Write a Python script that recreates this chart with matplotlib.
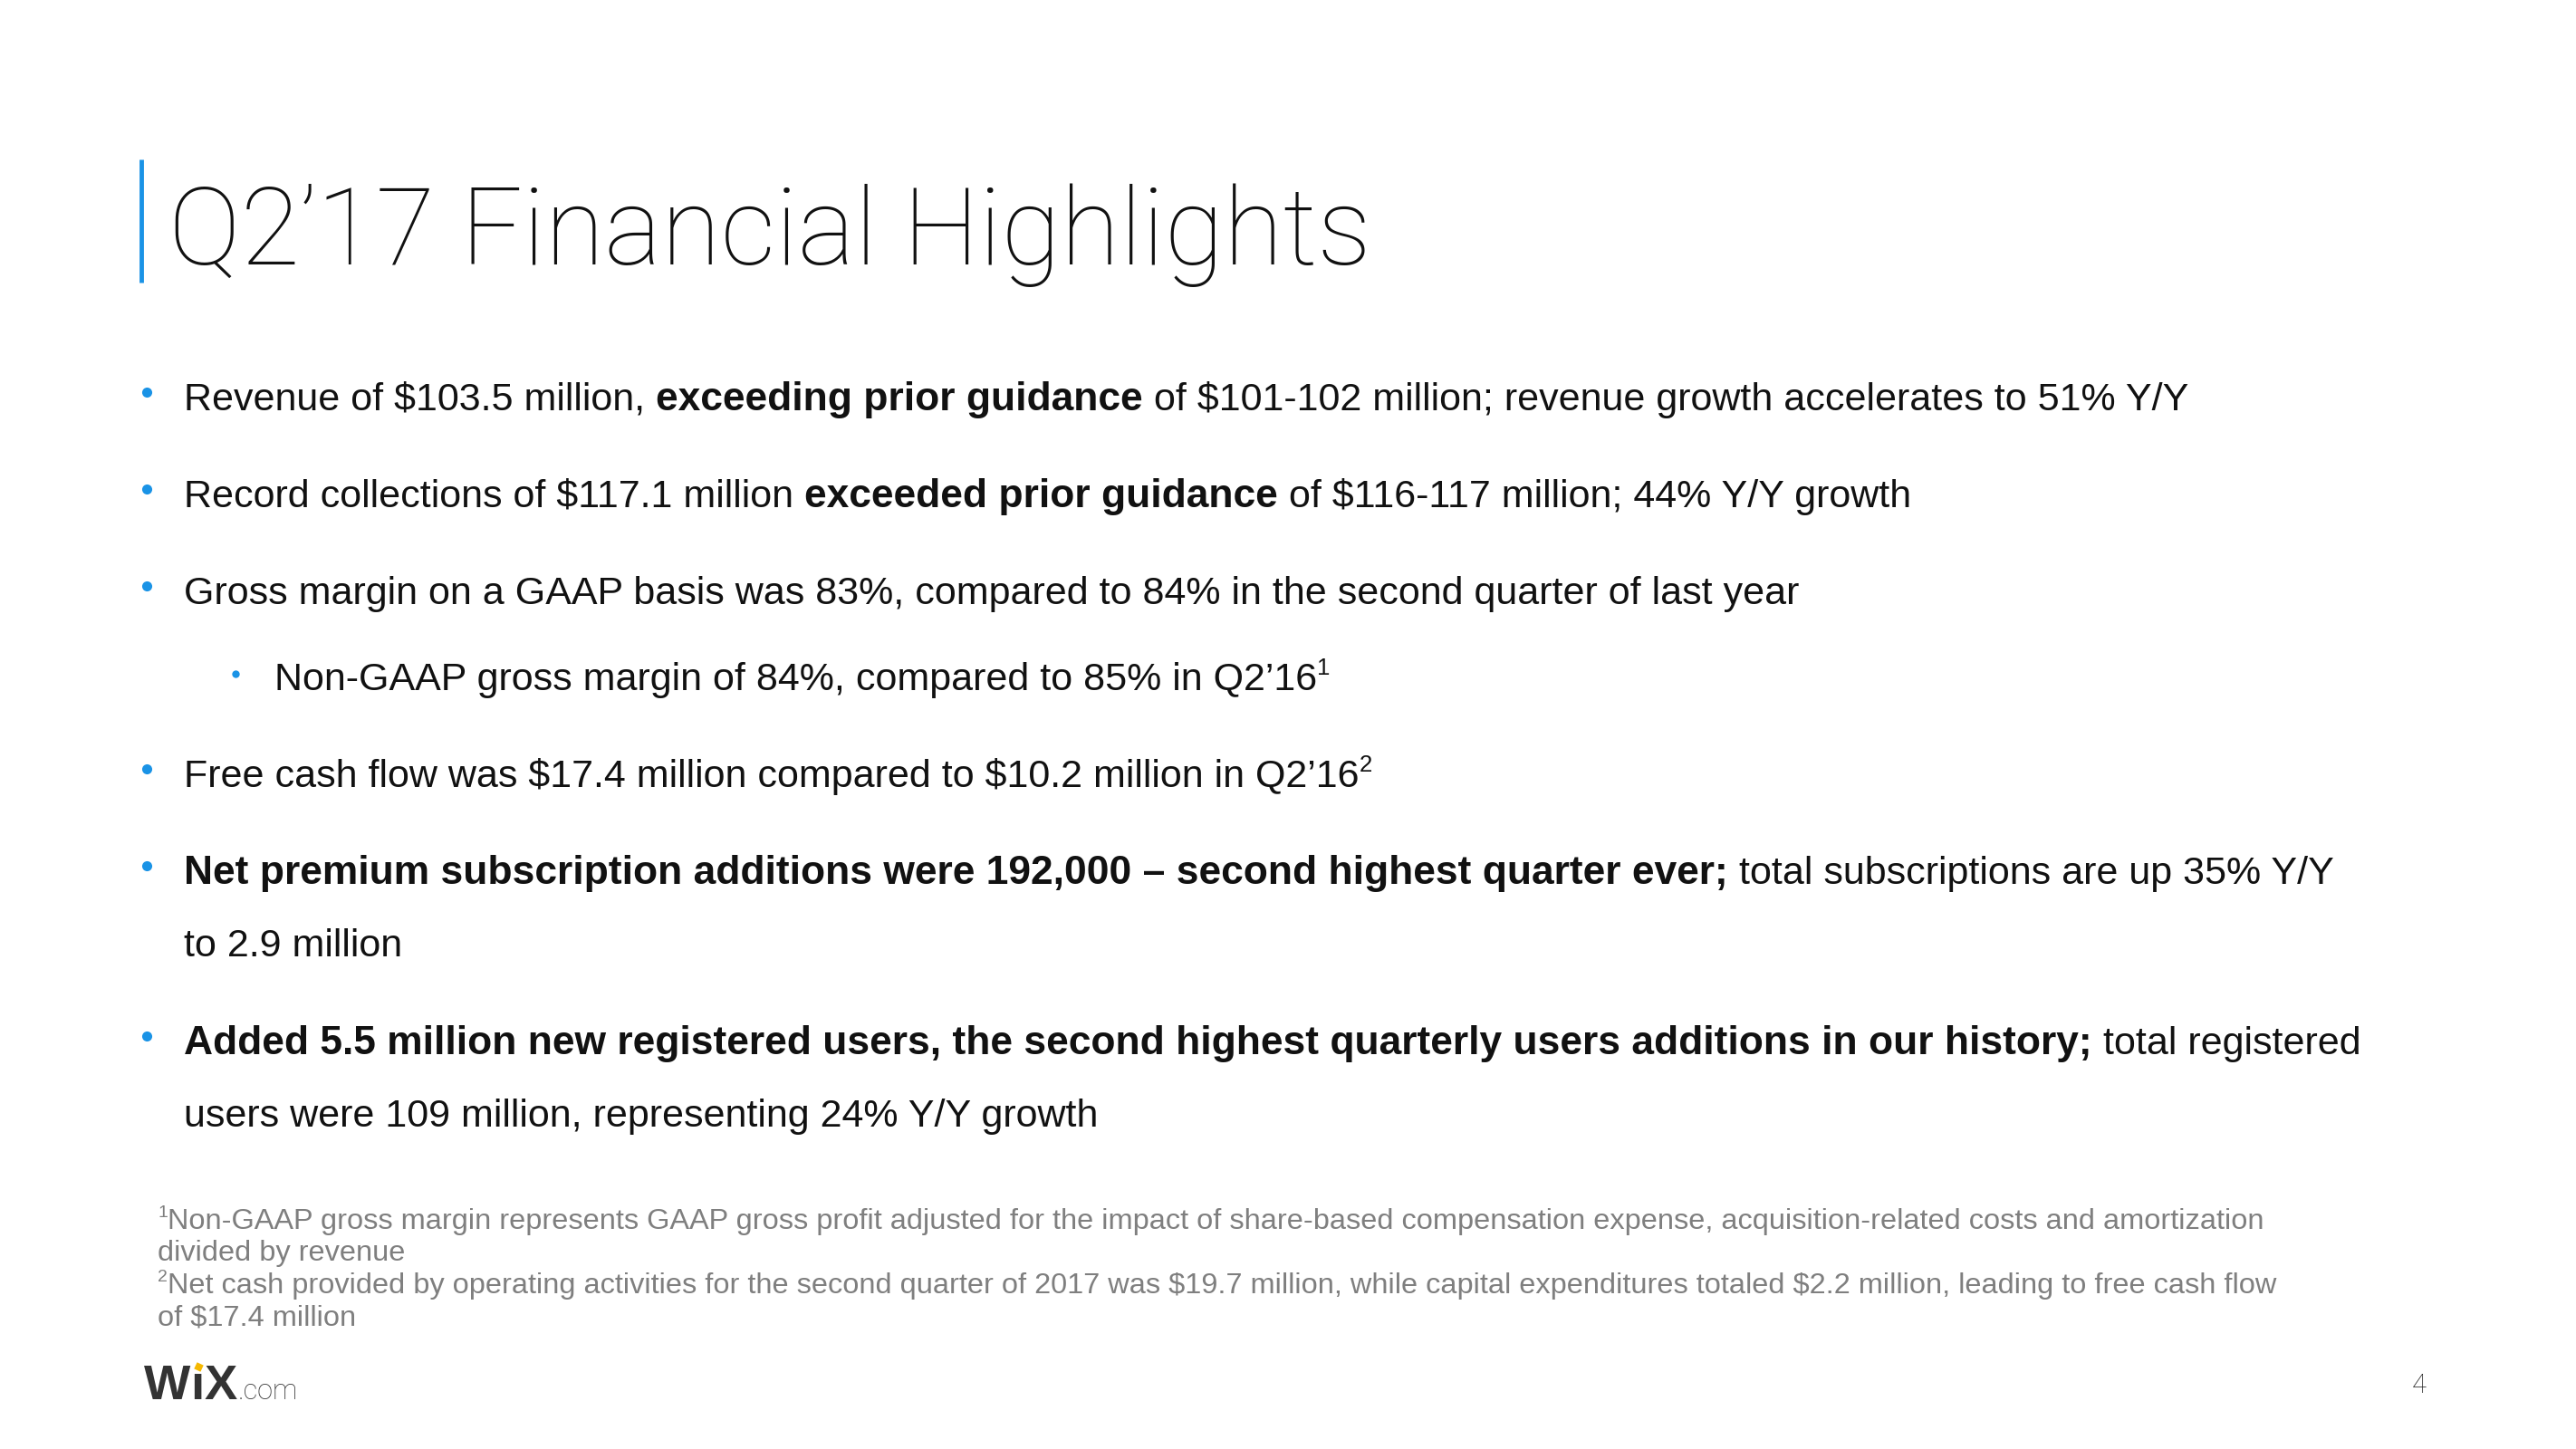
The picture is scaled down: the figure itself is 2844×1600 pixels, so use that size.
import matplotlib
matplotlib.use("Agg")
import matplotlib.pyplot as plt

W, H = 2844, 1600

title = "Q2\u201917 Financial Highlights"

# each line: (indent level, [(text, style), ...]); style r=regular, b=bold, s=superscript
bullet_lines = [
    (0, [("Revenue of $103.5 million, ", "r"), ("exceeding prior guidance", "b"),
         (" of $101-102 million; revenue growth accelerates to 51% Y/Y", "r")]),
    (0, [("Record collections of $117.1 million ", "r"), ("exceeded prior guidance", "b"),
         (" of $116-117 million; 44% Y/Y growth", "r")]),
    (0, [("Gross margin on a GAAP basis was 83%, compared to 84% in the second quarter of last year", "r")]),
    (1, [("Non-GAAP gross margin of 84%, compared to 85% in Q2\u201916", "r"), ("1", "s")]),
    (0, [("Free cash flow was $17.4 million compared to $10.2 million in Q2\u201916", "r"), ("2", "s")]),
    (0, [("Net premium subscription additions were 192,000 \u2013 second highest quarter ever;", "b"),
         (" total subscriptions are up 35% Y/Y", "r")]),
    (-1, [("to 2.9 million", "r")]),
    (0, [("Added 5.5 million new registered users, the second highest quarterly users additions in our history;", "b"),
         (" total registered", "r")]),
    (-1, [("users were 109 million, representing 24% Y/Y growth", "r")]),
]
line_y = [453, 560, 667, 762, 869, 976, 1056, 1164, 1244]

footnotes = [
    [("1", "s"), ("Non-GAAP gross margin represents GAAP gross profit adjusted for the impact of share-based compensation expense, acquisition-related costs and amortization", "r")],
    [("divided by revenue", "r")],
    [("2", "s"), ("Net cash provided by operating activities for the second quarter of 2017 was $19.7 million, while capital expenditures totaled $2.2 million, leading to free cash flow", "r")],
    [("of $17.4 million", "r")],
]
foot_y = [1357, 1392, 1428, 1463]

page_num = "4"

BLUE = "#1a93e6"
FONTS = {
    "r": dict(family="Liberation Sans", weight="normal"),
    "b": dict(family="Liberation Sans", weight="bold"),
    "s": dict(family="Liberation Sans", weight="normal"),
}
BOLD_SCALE = 1.03

fig = plt.figure(figsize=(W / 100, H / 100), dpi=100)
fig.patch.set_facecolor("white")
ax = fig.add_axes([0, 0, 1, 1])
ax.set_xlim(0, W)
ax.set_ylim(H, 0)
ax.axis("off")
renderer = fig.canvas.get_renderer()


def measure(s, size, style):
    # width incl. spaces, using bars as sentinels
    t1 = ax.text(0, 0, "|" + s + "|", fontsize=size, parse_math=False, **FONTS[style])
    t2 = ax.text(0, 0, "||", fontsize=size, parse_math=False, **FONTS[style])
    w = t1.get_window_extent(renderer).width - t2.get_window_extent(renderer).width
    t1.remove()
    t2.remove()
    return w


def draw_runs(x, y, runs, size, color):
    for text, style in runs:
        sz = size
        yy = y
        if style == "s":
            sz = size * 0.6
            yy = y - size * 0.55
        elif style == "b":
            sz = size * BOLD_SCALE
        ax.text(x, yy, text, fontsize=sz, color=color, va="baseline", ha="left",
                parse_math=False, **FONTS[style])
        x += measure(text, sz, style)
    return x


# title + blue bar
ax.plot([156, 156], [176, 312], color=BLUE, lw=3.5, solid_capstyle="butt")
ax.text(186, 292, title, fontsize=86, color="#111111", va="baseline", ha="left",
        family="Roboto", weight="light")

body_size = 31
for (lvl, runs), y in zip(bullet_lines, line_y):
    if lvl == 0:
        ax.plot(162, y - 20, "o", color=BLUE, ms=8, mec="none")
        draw_runs(203, y, runs, body_size, "#111111")
    elif lvl == 1:
        ax.plot(260, y - 18, "o", color=BLUE, ms=6, mec="none")
        draw_runs(303, y, runs, body_size, "#111111")
    else:
        draw_runs(203, y, runs, body_size, "#111111")

for runs, y in zip(footnotes, foot_y):
    draw_runs(174, y, runs, 23.4, "#7f7f7f")

# logo
xl = 159
xl = draw_runs(xl, 1545, [("W", "b")], 38, "#333333")
xi = xl
xl = draw_runs(xl, 1545, [("\u0131", "b")], 38, "#333333")
ax.plot(xi + 9, 1509, marker=(4, 0, 20), color="#f5b800", ms=8, mec="none")
xl = draw_runs(xl, 1545, [("X", "b")], 38, "#333333")
ax.text(xl + 1, 1545, ".com", fontsize=22, color="#333333", va="baseline", ha="left",
        family="Roboto", weight="light")

ax.text(2663, 1538, page_num, fontsize=21, color="#222222", va="baseline", ha="left",
        family="Roboto", weight="light")

fig.savefig("out.png", dpi=100, facecolor="white")
